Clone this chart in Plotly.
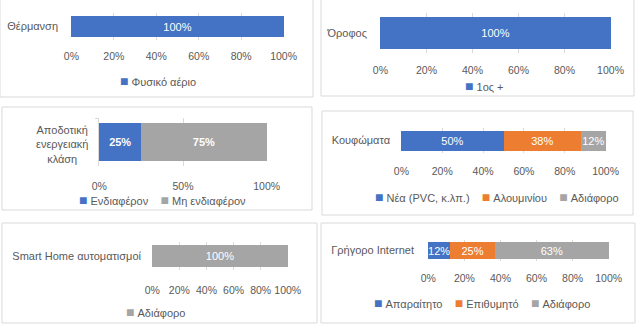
import plotly.graph_objects as go

W, H = 638, 333

# ---------------- data ----------------
heat_cat = ["Θέρμανση"]
heat_series = ["Φυσικό αέριο"]
heat_vals = [[1.00]]

floor_cat = ["Όροφος"]
floor_series = ["1ος +"]
floor_vals = [[1.00]]

energy_cat = ["Αποδοτική<br>ενεργειακή<br>κλάση"]
energy_series = ["Ενδιαφέρον", "Μη ενδιαφέρον"]
energy_vals = [[0.25], [0.75]]

frames_cat = ["Κουφώματα"]
frames_series = ["Νέα (PVC, κ.λπ.)", "Αλουμινίου", "Αδιάφορο"]
frames_vals = [[0.50], [0.38], [0.12]]

smart_cat = ["Smart Home αυτοματισμοί"]
smart_series = ["Αδιάφορο"]
smart_vals = [[1.00]]

net_cat = ["Γρήγορο Internet"]
net_series = ["Απαραίτητο", "Επιθυμητό", "Αδιάφορο"]
net_vals = [[0.12], [0.25], [0.63]]

# ---------------- styling ----------------
BLUE, ORANGE, GRAY = "#4472C4", "#ED7D31", "#A5A5A5"
TXT = "#595959"
GRID = "#D9D9D9"
FONT = "Liberation Sans"
TICK = 10.5

panels = [
    dict(cats=heat_cat, series=heat_series, vals=heat_vals, colors=[BLUE],
         plot=(71, 284, 13, 40), gap=0.63, dtick=0.2, xs=8, ys=12, leg=(158, 81),
         border=(0, -2, 313, 97)),
    dict(cats=floor_cat, series=floor_series, vals=floor_vals, colors=[BLUE],
         plot=(380, 611, 13, 53), gap=0.60, dtick=0.2, xs=9, ys=12, leg=(484, 86),
         border=(321, -2, 634, 96)),
    dict(cats=energy_cat, series=energy_series, vals=energy_vals, colors=[BLUE, GRAY],
         plot=(99, 267, 118, 166), gap=0.60, dtick=0.5, xs=12, ys=8, leg=(162, 200),
         border=(2, 107, 312, 210), axisline=True, bold=True, catlabel=(62, 144)),
    dict(cats=frames_cat, series=frames_series, vals=frames_vals, colors=[BLUE, ORANGE, GRAY],
         plot=(401, 606, 128, 153), gap=0.52, dtick=0.2, xs=10, ys=10, leg=(497, 197),
         border=(322, 111, 633, 215)),
    dict(cats=smart_cat, series=smart_series, vals=smart_vals, colors=[GRAY],
         plot=(152, 288, 242, 270), gap=0.50, dtick=0.2, xs=12, ys=10, leg=(155, 312),
         border=(2, 223, 317, 323)),
    dict(cats=net_cat, series=net_series, vals=net_vals, colors=[BLUE, ORANGE, GRAY],
         plot=(428, 609, 240, 261), gap=0.62, dtick=0.2, xs=9, ys=13, leg=(482, 303),
         border=(321, 223, 635, 323)),
]

fig = go.Figure()
layout = dict(
    width=W, height=H,
    margin=dict(l=0, r=0, t=0, b=0, autoexpand=False),
    paper_bgcolor="white", plot_bgcolor="white",
    font=dict(family=FONT, size=11, color=TXT),
    barmode="stack", showlegend=False,
    shapes=[], annotations=[],
)

NB = "\u00a0"

for i, p in enumerate(panels, start=1):
    xa = "x" if i == 1 else f"x{i}"
    ya = "y" if i == 1 else f"y{i}"
    x0, x1, yt, yb = p["plot"]
    for name, vals, col in zip(p["series"], p["vals"], p["colors"]):
        tmpl = "<b>%{x:.0%}</b>" if p.get("bold") else "%{x:.0%}"
        fig.add_trace(go.Bar(
            x=vals, y=p["cats"], name=name, orientation="h",
            marker=dict(color=col, line=dict(width=0)),
            texttemplate=tmpl, textposition="inside", insidetextanchor="middle",
            constraintext="none", textangle=0, cliponaxis=False,
            textfont=dict(color="white", size=11, family=FONT),
            xaxis=xa, yaxis=ya, hoverinfo="skip", showlegend=False,
        ))
    xkey = "xaxis" if i == 1 else f"xaxis{i}"
    ykey = "yaxis" if i == 1 else f"yaxis{i}"
    layout[xkey] = dict(
        domain=[x0 / W, x1 / W], anchor=ya, range=[-0.002, 1.002],
        tickformat=".0%", dtick=p["dtick"], tick0=0, tickangle=0,
        showgrid=True, gridcolor=GRID, gridwidth=1, zeroline=False,
        showline=False, ticks="", ticklabelstandoff=p["xs"],
        tickfont=dict(size=TICK, color=TXT), fixedrange=True,
    )
    yax = dict(
        domain=[1 - yb / H, 1 - yt / H], anchor=xa, type="category",
        showgrid=False, zeroline=False, ticklabelstandoff=p["ys"],
        tickfont=dict(size=11, color=TXT), fixedrange=True,
    )
    if p.get("axisline"):
        yax.update(showline=True, linecolor=GRID, ticks="outside", tickson="boundaries",
                   ticklen=3, tickcolor=GRID)
    else:
        yax.update(showline=False, ticks="")
    if p.get("catlabel"):
        yax.update(showticklabels=False)
        lx, ly = p["catlabel"]
        layout["annotations"].append(dict(
            text=p["cats"][0], x=lx / W, y=1 - ly / H, xref="paper", yref="paper",
            xanchor="center", yanchor="middle", align="center", showarrow=False,
            font=dict(size=11, color=TXT),
        ))
    layout[ykey] = yax

    # legend row (series names with coloured square keys)
    parts = [f"<span style='color:{c};font-size:14px'>■</span>{NB}{n}"
             for n, c in zip(p["series"], p["colors"])]
    cx, cy = p["leg"]
    layout["annotations"].append(dict(
        text=(NB * 4).join(parts), x=cx / W, y=1 - cy / H, xref="paper", yref="paper",
        xanchor="center", yanchor="middle", showarrow=False,
        font=dict(size=11, color=TXT),
    ))

    bx0, by0, bx1, by1 = p["border"]
    layout["shapes"].append(dict(
        type="rect", xref="paper", yref="paper",
        x0=bx0 / W, x1=bx1 / W, y0=1 - by1 / H, y1=1 - by0 / H,
        line=dict(color=GRID, width=1), fillcolor="rgba(0,0,0,0)", layer="below",
    ))

fig.update_layout(**layout)
fig.write_html("out.html", config={"displayModeBar": False})
